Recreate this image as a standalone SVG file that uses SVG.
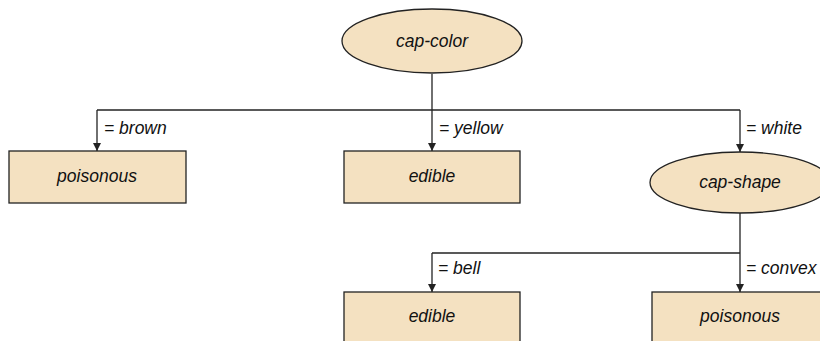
<svg xmlns="http://www.w3.org/2000/svg" width="820" height="341" viewBox="0 0 820 341">
<defs>
<marker id="arr" markerWidth="10" markerHeight="10" refX="8" refY="4" orient="auto" markerUnits="userSpaceOnUse">
<path d="M0,0 L8,4 L0,8 Z" fill="#222"/>
</marker>
<style>
.n{fill:#F4E1C1;stroke:#222;stroke-width:1.3}
.t{font-family:"Liberation Sans",Arial,sans-serif;font-style:italic;font-size:17.5px;fill:#111}
.m{text-anchor:middle}
.c{fill:none;stroke:#222;stroke-width:1.3}
</style>
</defs>
<rect width="820" height="341" fill="#fff"/>
<g id="connectors">
<path class="c" d="M432,74 V110"/>
<path class="c" d="M97,110 H740"/>
<path class="c" d="M97,110 V151" marker-end="url(#arr)"/>
<path class="c" d="M432,110 V151" marker-end="url(#arr)"/>
<path class="c" d="M740,110 V152" marker-end="url(#arr)"/>
<path class="c" d="M740,213 V253"/>
<path class="c" d="M432,253 H740"/>
<path class="c" d="M432,253 V292" marker-end="url(#arr)"/>
<path class="c" d="M740,253 V292" marker-end="url(#arr)"/>
<text class="t" x="104" y="134">= brown</text>
<text class="t" x="439" y="134">= yellow</text>
<text class="t" x="746" y="134">= white</text>
<text class="t" x="438" y="274">= bell</text>
<text class="t" x="746" y="274">= convex</text>
</g>
<g id="cap-color">
<ellipse class="n" cx="432" cy="41" rx="90" ry="32"/>
<text class="t m" x="432" y="47">cap-color</text>
</g>
<g id="poisonous1">
<rect class="n" x="9" y="151" width="177" height="52"/>
<text class="t m" x="97" y="182">poisonous</text>
</g>
<g id="edible1">
<rect class="n" x="344" y="151" width="176" height="52"/>
<text class="t m" x="432" y="182">edible</text>
</g>
<g id="cap-shape">
<ellipse class="n" cx="740" cy="182.5" rx="90" ry="30.5"/>
<text class="t m" x="740" y="188">cap-shape</text>
</g>
<g id="edible2">
<rect class="n" x="344" y="292" width="176" height="60"/>
<text class="t m" x="432" y="322">edible</text>
</g>
<g id="poisonous2">
<rect class="n" x="652" y="292" width="177" height="60"/>
<text class="t m" x="740" y="322">poisonous</text>
</g>
</svg>
